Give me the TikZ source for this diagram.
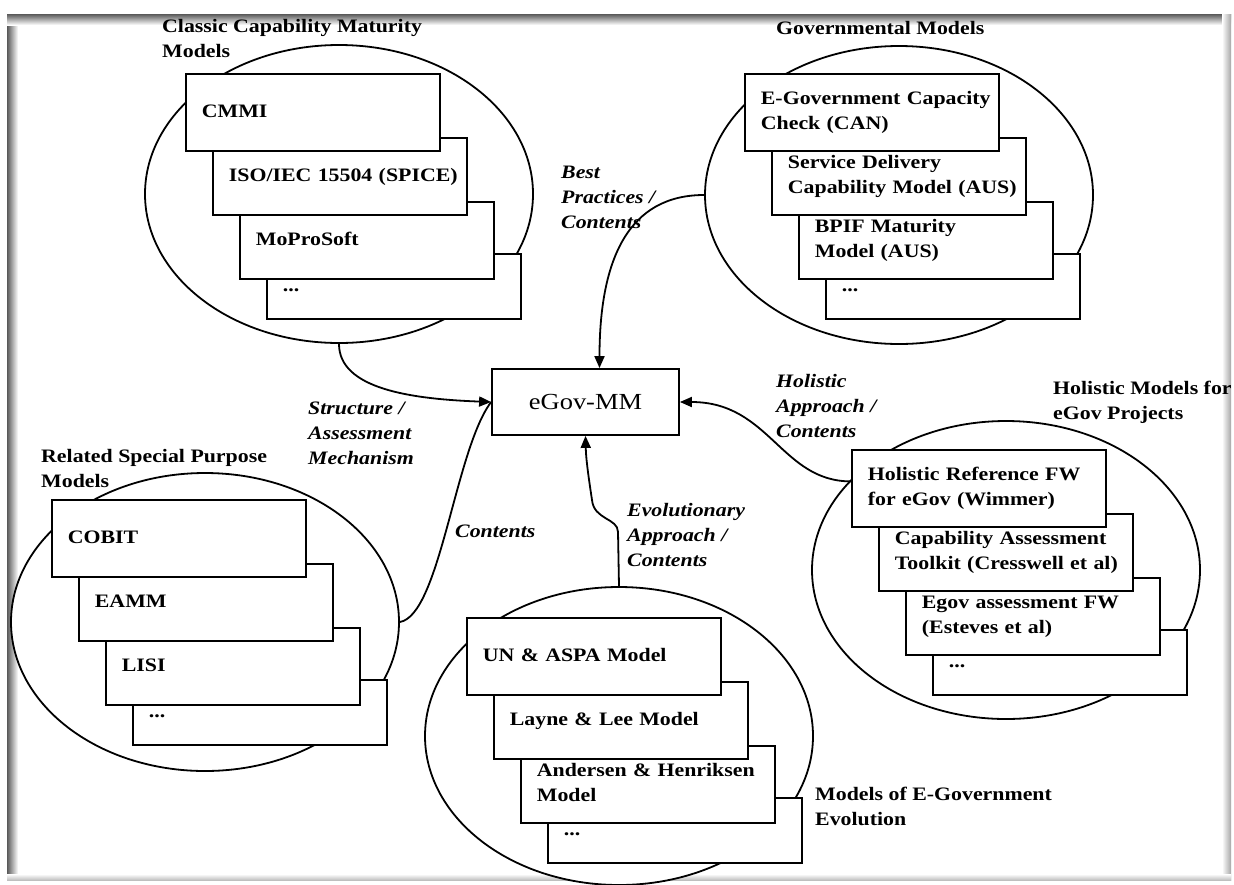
\documentclass[tikz,border=0pt]{standalone}
\usepackage{fontspec}
\setmainfont{Liberation Serif}[FakeStretch=1.15]
\usetikzlibrary{shapes.geometric,arrows.meta}
\newcommand{\bline}[1]{\mbox{\strut #1}}
\begin{document}
\begin{tikzpicture}[x=1pt,y=-1pt,
  every node/.style={font=\fontsize{19}{25}\selectfont\bfseries},
  ell/.style={ellipse, draw, line width=1.8pt, fill=white, minimum width=388pt, minimum height=298pt, inner sep=0pt},
  mbox/.style={draw, line width=1.8pt, fill=white, anchor=north west, minimum height=77pt, text width=222pt, inner xsep=16pt, inner ysep=0pt, align=left},
  dbox/.style={mbox, minimum height=65pt},
  ttl/.style={anchor=west, align=left, inner sep=0pt},
  lbl/.style={anchor=west, align=left, inner sep=0pt, font=\fontsize{19}{25}\selectfont\bfseries\itshape},
  arr/.style={line width=1.8pt, -{Triangle[length=12pt,width=10pt]}},
  ln/.style={line width=1.8pt},
]
\useasboundingbox (0,0) rectangle (1234,884);
\fill[white] (0,0) rectangle (1234,884);
% frame with inner shadow
\shade[left color=black!65, right color=white] (7,14) rectangle (18,880);
\shade[top color=black!65, bottom color=white] (7,14) rectangle (1231,25);
\shade[left color=white, right color=black!35] (1222,14) rectangle (1231,880);
\shade[top color=white, bottom color=black!25] (7,874) rectangle (1231,880);

% Group 1: Classic Capability Maturity Models
\node[ell] (e1) at (339,194) {};
\node[dbox] (c4) at (266,253) {\bline{...}};
\node[mbox] (c3) at (239,201) {\bline{MoProSoft}};
\node[mbox] (c2) at (212,137) {\bline{ISO/IEC 15504 (SPICE)}};
\node[mbox] (c1) at (185,73) {\bline{CMMI}};
\node[ttl] (t1) at (162,39.5) {\bline{Classic Capability Maturity}\\\bline{Models}};

% Group 2: Governmental Models
\node[ell] (e2) at (899,195) {};
\node[dbox] (g4) at (825,253) {\bline{...}};
\node[mbox] (g3) at (798,201) {\bline{BPIF Maturity}\\\bline{Model (AUS)}};
\node[mbox] (g2) at (771,137) {\bline{Service Delivery}\\\bline{Capability Model (AUS)}};
\node[mbox] (g1) at (744,73) {\bline{E-Government Capacity}\\\bline{Check (CAN)}};
\node[ttl] (t2) at (776,29) {\bline{Governmental Models}};

% Group 3: Related Special Purpose Models
\node[ell] (e3) at (205,622) {};
\node[dbox] (r4) at (132,679) {\bline{...}};
\node[mbox] (r3) at (105,627) {\bline{LISI}};
\node[mbox] (r2) at (78,563) {\bline{EAMM}};
\node[mbox] (r1) at (51,499) {\bline{COBIT}};
\node[ttl] (t3) at (41,469.5) {\bline{Related Special Purpose}\\\bline{Models}};

% Group 4: Models of E-Government Evolution
\node[ell] (e4) at (619,736) {};
\node[dbox] (v4) at (547,797) {\bline{...}};
\node[mbox] (v3) at (520,745) {\bline{Andersen \& Henriksen}\\\bline{Model}};
\node[mbox] (v2) at (493,681) {\bline{Layne \& Lee Model}};
\node[mbox] (v1) at (466,617) {\bline{UN \& ASPA Model}};
\node[ttl] (t4) at (815,807.5) {\bline{Models of E-Government}\\\bline{Evolution}};

% Group 5: Holistic Models for eGov Projects
\node[ell] (e5) at (1006,570) {};
\node[dbox] (h4) at (932,629) {\bline{...}};
\node[mbox] (h3) at (905,577) {\bline{Egov assessment FW}\\\bline{(Esteves et al)}};
\node[mbox] (h2) at (878,513) {\bline{Capability Assessment}\\\bline{Toolkit (Cresswell et al)}};
\node[mbox] (h1) at (851,449) {\bline{Holistic Reference FW}\\\bline{for eGov (Wimmer)}};
\node[ttl] (t5) at (1053,401.5) {\bline{Holistic Models for}\\\bline{eGov Projects}};

% centre
\node[draw, line width=1.8pt, fill=white, minimum width=187pt, minimum height=66pt, inner sep=0pt,
      font=\fontsize{23}{28}\selectfont] (mm) at (585.5,402) {eGov-MM};

% connector labels
\node[lbl] (l1) at (561,198) {\bline{Best}\\\bline{Practices /}\\\bline{Contents}};
\node[lbl] (l2) at (308,434) {\bline{Structure /}\\\bline{Assessment}\\\bline{Mechanism}};
\node[lbl] (l3) at (455,532) {\bline{Contents}};
\node[lbl] (l4) at (627,536) {\bline{Evolutionary}\\\bline{Approach /}\\\bline{Contents}};
\node[lbl] (l5) at (776,407) {\bline{Holistic}\\\bline{Approach /}\\\bline{Contents}};

% connectors
\draw[arr] (e1.south) .. controls +(0,45) and +(-80,-3) .. (mm.west);
\draw[ln] (e3.east) .. controls (440,615) and (455,450) .. (mm.west);
\draw[arr] (e2.west) .. controls +(-75,0) and +(0,-110) .. ([xshift=14pt]mm.north);
\draw[arr] ([yshift=7pt]h1.west) .. controls +(-70,0) and +(90,0) .. (mm.east);
\draw[arr] (e4.north) -- (618,532) .. controls (618,518) and (594,520) .. (592,500)
   .. controls (589,480) and (586,460) .. (mm.south);
\end{tikzpicture}
\end{document}
